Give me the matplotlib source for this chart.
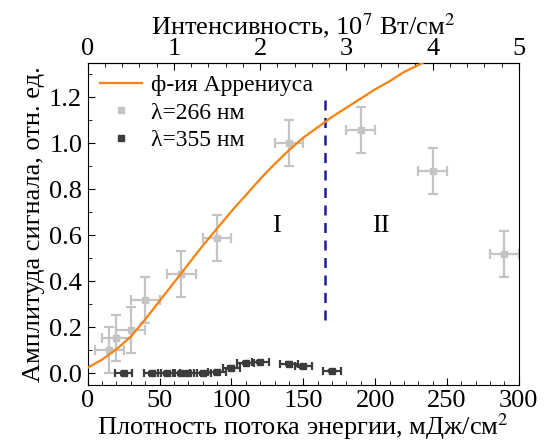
import matplotlib
matplotlib.use('Agg')
from matplotlib import pyplot as plt
from matplotlib.lines import Line2D

plt.rcParams['font.family'] = ['Liberation Serif', 'DejaVu Serif']
plt.rcParams['mathtext.fontset'] = 'stix'

# lambda = 266 nm
x266 = [15, 20, 30, 40, 65, 90, 140, 190, 240, 290]
y266 = [0.10, 0.155, 0.19, 0.32, 0.43, 0.59, 1.0, 1.06, 0.88, 0.52]
xerr266 = [10] * len(x266)
yerr266 = [0.1] * len(x266)

# lambda = 355 nm
x355 = [25, 45, 55, 65, 70, 80, 90, 100, 110, 120, 140, 150, 170]
y355 = [0.0, 0.0, 0.0, 0.0, 0.0, 0.0, 0.005, 0.025, 0.045, 0.05, 0.042, 0.03, 0.01]
xerr355 = [6] * len(x355)
yerr355 = [0.006] * len(x355)

# Arrhenius fit
x_fit = [0, 10, 20, 30, 40, 50, 60, 70, 80, 90, 100, 110, 120, 130, 140, 150,
         160, 170, 180, 190, 200, 210, 220, 233]
y_fit = [0.025, 0.06, 0.105, 0.16, 0.235, 0.315, 0.395, 0.475, 0.555, 0.63, 0.705, 0.775,
         0.845, 0.91, 0.97, 1.025, 1.07, 1.115, 1.155, 1.195, 1.235, 1.27, 1.31, 1.35]

border_x = 165

orange = '#f7820f'
light = '#c4c4c4'
dark = '#3c3c3c'

fig = plt.figure(figsize=(5.45, 4.46), dpi=100)
ax = fig.add_axes([0.161, 0.137, 0.791, 0.722])

ax.plot(x_fit, y_fit, color=orange, lw=1.6, zorder=3)
ax.errorbar(x266, y266, xerr=xerr266, yerr=yerr266, fmt='s', ms=4, color=light,
            ecolor=light, elinewidth=1.6, capsize=3.5, capthick=1.6, zorder=2)
ax.errorbar(x355, y355, xerr=xerr355, yerr=yerr355, fmt='s', ms=4, color=dark,
            ecolor=dark, elinewidth=1.6, capsize=3, capthick=1.6, zorder=2)
ax.plot([border_x, border_x], [0.23, 1.22], color='#1c1c9c', lw=1.8, ls=(0, (4, 3)))

ax.text(131, 0.64, 'I', fontsize=19, ha='center', va='center')
ax.text(204, 0.64, 'II', fontsize=19, ha='center', va='center')

ax.set_xlim(0, 300)
ax.set_ylim(-0.05, 1.35)
ax.set_xticks(range(0, 301, 50))
ax.set_xticks(range(0, 301, 10), minor=True)
ax.set_yticks([0, 0.2, 0.4, 0.6, 0.8, 1.0, 1.2])
ax.set_yticks([0.1 * i for i in range(14)], minor=True)
ax.yaxis.set_major_formatter(matplotlib.ticker.FormatStrFormatter('%.1f'))
ax.tick_params(which='both', direction='in', labelsize=19, top=False, right=False, pad=4)
ax.tick_params(which='major', length=5)
ax.tick_params(which='minor', length=3)

top = ax.secondary_xaxis('top', functions=(lambda x: x / 60, lambda x: x * 60))
top.set_xticks(range(0, 6))
top.set_xticks([0.2 * i for i in range(26)], minor=True)
top.tick_params(which='both', direction='in', labelsize=19, pad=2)
top.tick_params(which='major', length=5)
top.tick_params(which='minor', length=3)
top.set_xlabel('Интенсивность, 10$^7$ Вт/см$^2$', fontsize=19, labelpad=3)

ax.set_xlabel('Плотность потока энергии, мДж/см$^2$', fontsize=19, labelpad=-1)
ax.set_ylabel('Амплитуда сигнала, отн. ед.', fontsize=19, labelpad=3)

handles = [
    Line2D([], [], color=orange, lw=1.6),
    Line2D([], [], ls='none', marker='s', ms=5, color=light),
    Line2D([], [], ls='none', marker='s', ms=5, color=dark),
]
labels = ['ф-ия Аррениуса', 'λ=266 нм', 'λ=355 нм']
ax.legend(handles, labels, loc='upper left', frameon=False, fontsize=17,
          handlelength=1.8, borderaxespad=0.2, labelspacing=0.25, handletextpad=0.4,
          borderpad=0.3)

fig.savefig('out.png', dpi=100)
